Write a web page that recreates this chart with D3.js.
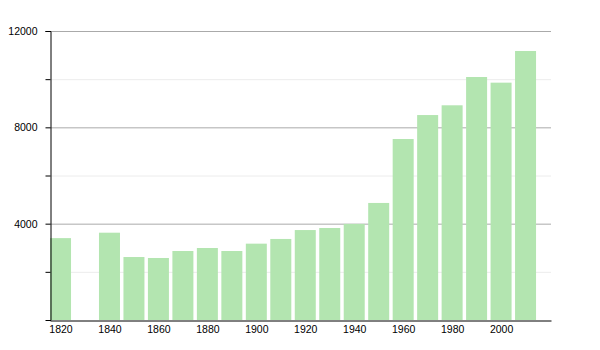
<!DOCTYPE html>
<html>
<head>
<meta charset="utf-8">
<script src="https://cdn.jsdelivr.net/npm/d3@7"></script>
<style>
  body { margin: 0; background: #fff; }
  text { font-family: "Liberation Sans", Arial, sans-serif; font-size: 10.5px; fill: #000; }
</style>
</head>
<body>
<div id="chart"></div>
<script>
// census years and population
const years = [1820, 1840, 1850, 1860, 1870, 1880, 1890, 1900, 1910, 1920,
               1930, 1940, 1950, 1960, 1970, 1980, 1990, 2000, 2010];
const population = [3400, 3625, 2615, 2575, 2865, 2990, 2865, 3170, 3365, 3735,
                    3820, 3990, 4860, 7515, 8510, 8915, 10090, 9855, 11170];
const yTicks = [2000, 4000, 6000, 8000, 10000, 12000];
const yLabels = [4000, 8000, 12000];
const xLabels = [1820, 1840, 1860, 1880, 1900, 1920, 1940, 1960, 1980, 2000];

const width = 600, height = 350;
const mLeft = 50, mRight = 551, mTop = 31, mBottom = 320;

const svg = d3.select('#chart')
    .append('svg')
    .attr('width', width)
    .attr('height', height);

const x = d3.scaleLinear()
    .domain([1815.7, 2020.4])
    .range([mLeft, mRight]);

const y = d3.scaleLinear()
    .domain([0, 12000])
    .range([mBottom, mTop]);

const barW = 21;

// grid lines
svg.append('g')
    .selectAll('line')
    .data(yTicks)
    .enter()
    .append('line')
    .attr('x1', mLeft)
    .attr('x2', mRight)
    .attr('y1', d => y(d) + 0.5)
    .attr('y2', d => y(d) + 0.5)
    .attr('stroke', d => yLabels.includes(d) ? '#aaa' : '#ececec')
    .attr('stroke-width', 1);

// bars
svg.append('g')
    .selectAll('rect')
    .data(years)
    .enter()
    .append('rect')
    .attr('x', (d, i) => x(d) - barW / 2)
    .attr('y', (d, i) => y(population[i]))
    .attr('width', barW)
    .attr('height', (d, i) => y(0) - y(population[i]))
    .attr('fill', '#b3e5b0');

// y axis
const yAxis = d3.axisLeft(y)
    .tickValues(yTicks)
    .tickSize(5)
    .tickFormat(d => yLabels.includes(d) ? d : '');

const gy = svg.append('g')
    .attr('transform', 'translate(' + (mLeft + 0.5) + ',0)')
    .call(yAxis);
gy.select('.domain').attr('stroke', '#000');
gy.selectAll('.tick line').attr('stroke', '#000');
gy.selectAll('.tick text').attr('x', -13).style('font-size', '10.5px');

// x axis
const xAxis = d3.axisBottom(x)
    .tickValues(xLabels)
    .tickSize(0)
    .tickPadding(5)
    .tickFormat(d3.format('d'));

const gx = svg.append('g')
    .attr('transform', 'translate(0,' + (mBottom + 0.5) + ')')
    .call(xAxis);
gx.select('.domain').attr('stroke', '#000');
gx.selectAll('.tick text').style('font-size', '10.5px');
</script>
</body>
</html>
